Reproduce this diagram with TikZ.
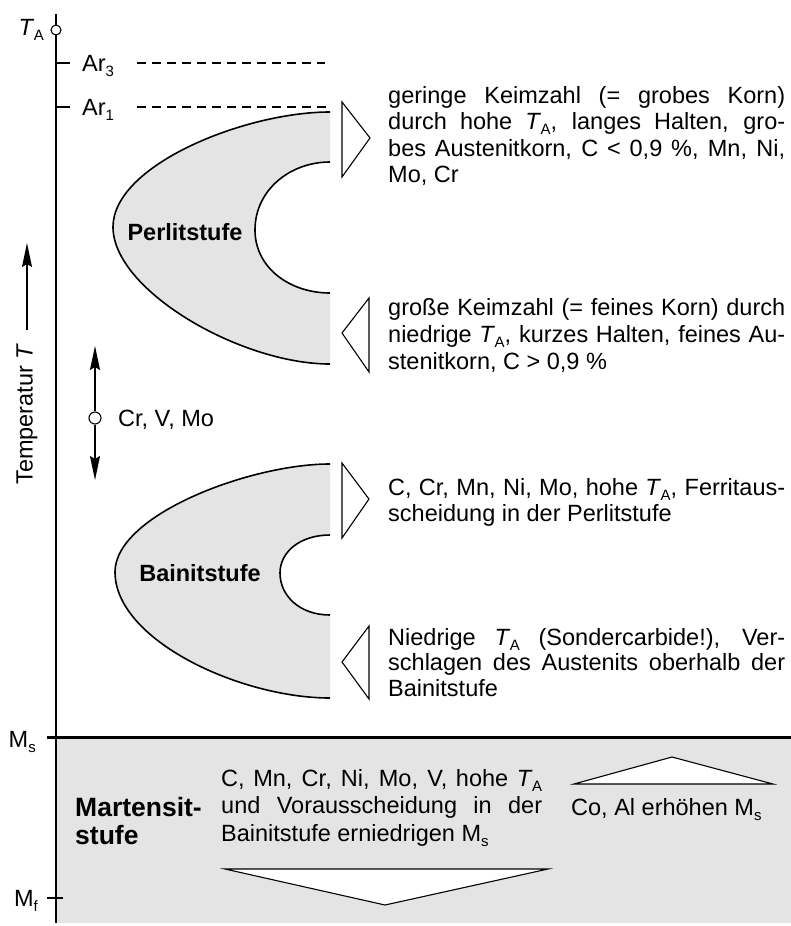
\documentclass[tikz,border=0pt]{standalone}
\usepackage{fontspec}
\setmainfont{Liberation Sans}
\usetikzlibrary{arrows.meta}
\newcommand\jline[2][397pt]{\hbox{\makebox[#1][s]{#2}}}
\newcommand\lline[1]{\hbox{#1}}
\newcommand\sbs[1]{\raisebox{-0.22em}{\fontsize{15}{15}\selectfont #1}}
\newcommand\TA{\textit{T}\kern-0.5pt\sbs{A}}
\definecolor{zonegray}{gray}{0.895}
\tikzset{
  txt/.style={anchor=base west, inner sep=0pt, font=\fontsize{23.5}{26.5}\selectfont},
  lbl/.style={inner sep=0pt, font=\fontsize{23.5}{26.5}\selectfont},
  zonelbl/.style={inner sep=0pt, font=\bfseries\fontsize{23.5}{27}\selectfont},
  martlbl/.style={inner sep=0pt, anchor=base west, font=\bfseries\fontsize{26.5}{28}\selectfont},
  curve/.style={line width=1.6pt},
  axisline/.style={line width=1.5pt},
  tick/.style={line width=1.2pt},
  dashline/.style={line width=1.1pt, dash pattern=on 9pt off 6pt},
  tri/.style={line width=1.1pt, fill=white},
  tarrow/.style={line width=1.4pt, -{Stealth[length=24pt,width=10pt,inset=3pt]}},
}
\begin{document}
\begin{tikzpicture}[x=1pt,y=-1pt]
\useasboundingbox (0,0) rectangle (791,926);
% Martensit zone
\fill[zonegray] (57,737) rectangle (791,923);
% Perlit zone
\fill[zonegray] (330,112) .. controls (245,112) and (113,165) .. (113,227)
  .. controls (113,290) and (240,364) .. (330,364) -- (330,293)
  .. controls (290,293) and (255,268) .. (255,230)
  .. controls (255,190) and (290,162) .. (330,162) -- cycle;
\draw[curve] (330,112) .. controls (245,112) and (113,165) .. (113,227)
  .. controls (113,290) and (240,364) .. (330,364);
\draw[curve] (330,162) .. controls (290,162) and (255,190) .. (255,230)
  .. controls (255,268) and (290,293) .. (330,293);
% Bainit zone
\fill[zonegray] (330,464) .. controls (250,464) and (115,515) .. (115,572)
  .. controls (115,640) and (240,698) .. (330,698) -- (330,615)
  .. controls (300,615) and (280,596) .. (280,573)
  .. controls (280,552) and (300,535) .. (330,535) -- cycle;
\draw[curve] (330,464) .. controls (250,464) and (115,515) .. (115,572)
  .. controls (115,640) and (240,698) .. (330,698);
\draw[curve] (330,535) .. controls (300,535) and (280,552) .. (280,573)
  .. controls (280,596) and (300,615) .. (330,615);
% axis
\coordinate (axtop) at (56,14);
\coordinate (axbot) at (56,923);
\draw[axisline] (axtop) -- (axbot);
\node[draw, circle, fill=white, line width=1.1pt, inner sep=0pt, minimum size=10pt] (ta) at (56,30) {};
\node[lbl, anchor=base east] (talbl) at (44,35) {\TA};
% Ar3, Ar1
\coordinate (ar3a) at (56,63); \coordinate (ar3b) at (70,63);
\draw[tick] (ar3a) -- (ar3b);
\node[lbl, anchor=base west] (ar3) at (82,71) {Ar\sbs{3}};
\coordinate (d3a) at (137,63); \coordinate (d3b) at (325,63);
\draw[dashline] (d3a) -- (d3b);
\coordinate (ar1a) at (56,107); \coordinate (ar1b) at (70,107);
\draw[tick] (ar1a) -- (ar1b);
\node[lbl, anchor=base west] (ar1) at (82,115) {Ar\sbs{1}};
\coordinate (d1a) at (137,107); \coordinate (d1b) at (330,107);
\draw[dashline] (d1a) -- (d1b);
% temperature arrow
\coordinate (tt) at (27,330); \coordinate (th) at (27,243);
\draw[tarrow] (tt) -- (th);
\node[lbl, rotate=90] (templbl) at (27,414) {Temperatur \textit{T}};
% Cr V Mo
\node[draw, circle, fill=white, line width=1.1pt, inner sep=0pt, minimum size=12pt] (crc) at (95,418) {};
\coordinate (crup) at (95,346); \coordinate (crdn) at (95,480);
\draw[tarrow] (crc.north) -- (crup);
\draw[tarrow] (crc.south) -- (crdn);
\node[lbl, anchor=base west] (crlbl) at (118,426) {Cr, V, Mo};
% zone labels
\node[zonelbl] (perlit) at (185,232) {Perlitstufe};
\node[zonelbl] (bainit) at (200,573) {Bainitstufe};
% triangles
\draw[tri] (342,102) -- (370,138) -- (342,177) -- cycle;
\draw[tri] (369,298) -- (342,333) -- (369,372) -- cycle;
\draw[tri] (342,463) -- (369,499) -- (342,538) -- cycle;
\draw[tri] (369,626) -- (342,662) -- (369,699) -- cycle;
% text blocks
\node[txt] (b1) at (388,103) {\vtop{\baselineskip=26.5pt
  \jline{geringe Keimzahl (= grobes Korn)}
  \jline{durch hohe \TA, langes Halten, gro-}
  \jline{bes Austenitkorn, C < 0,9 \%, Mn, Ni,}
  \lline{Mo, Cr}}};
\node[txt] (b2) at (388,315) {\vtop{\baselineskip=27pt
  \jline{große Keimzahl (= feines Korn) durch}
  \jline{niedrige \TA, kurzes Halten, feines Au-}
  \lline{stenitkorn, C > 0,9 \%}}};
\node[txt] (b3) at (388,495) {\vtop{\baselineskip=26pt
  \jline{C, Cr, Mn, Ni, Mo, hohe \TA, Ferritaus-}
  \lline{scheidung in der Perlitstufe}}};
\node[txt] (b4) at (388,645) {\vtop{\baselineskip=25.5pt
  \jline{Niedrige \TA{} (Sondercarbide!), Ver-}
  \jline{schlagen des Austenits oberhalb der}
  \lline{Bainitstufe}}};
% Ms, Mf
\coordinate (msa) at (47,737); \coordinate (msb) at (791,737);
\draw[line width=3pt] (msa) -- (msb);
\node[lbl, anchor=base east] (mslbl) at (36,747) {M\sbs{s}};
\coordinate (mfa) at (47,898); \coordinate (mfb) at (63,898);
\draw[tick] (mfa) -- (mfb);
\node[lbl, anchor=base east] (mflbl) at (38,906) {M\sbs{f}};
% Martensit texts
\node[martlbl] (mart1) at (75,816) {Martensit-};
\node[martlbl] (mart2) at (75,844) {stufe};
\node[txt] (m1) at (221,786) {\vtop{\baselineskip=27.5pt
  \jline[321pt]{C, Mn, Cr, Ni, Mo, V, hohe \TA}
  \jline[321pt]{und Vorausscheidung in der}
  \lline{Bainitstufe erniedrigen M\sbs{s}}}};
\node[txt] (m2) at (571,815) {Co, Al erhöhen M\sbs{s}};
\draw[tri] (574,784) -- (672,757) -- (773,784) -- cycle;
\draw[tri] (225,869) -- (548,869) -- (385,905) -- cycle;
\end{tikzpicture}
\end{document}
